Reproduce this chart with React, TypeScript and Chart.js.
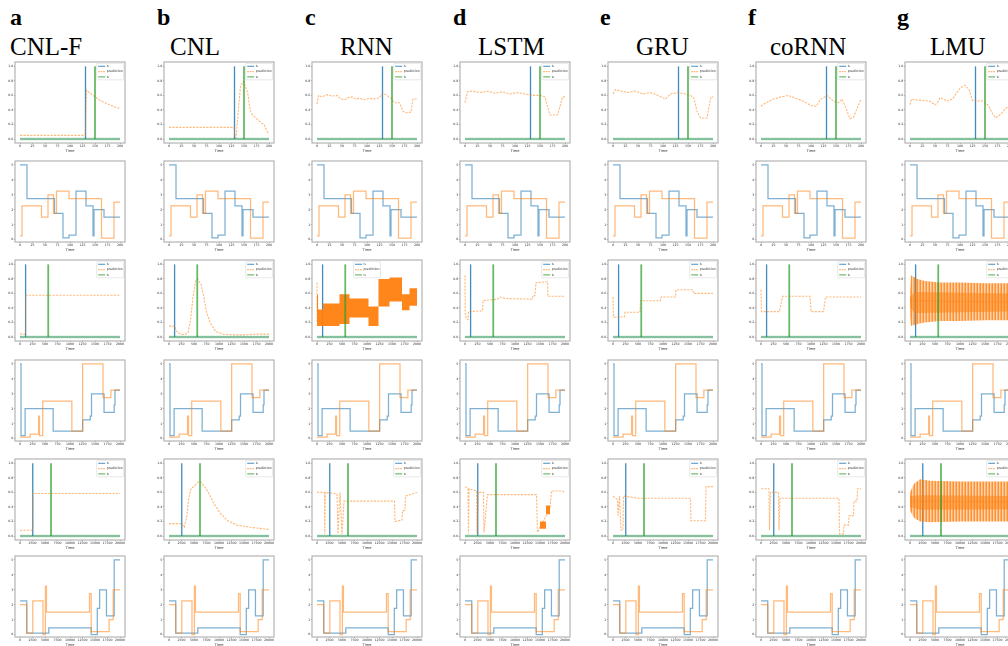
import React, { useEffect, useRef } from 'react';
import { Chart, registerables } from 'chart.js';

Chart.register(...registerables);

type Pt = [number, number];
type BandPt = [number, number, number];

// ---------------- data ----------------
const COLUMN_LETTERS = ['a', 'b', 'c', 'd', 'e', 'f', 'g'];
const MODEL_NAMES = ['CNL-F', 'CNL', 'RNN', 'LSTM', 'GRU', 'coRNN', 'LMU'];
const LEGEND_LABELS = ['t\u2081', 'prediction', 't\u2082'];
const AXIS_LABEL = 'Time';

const TICKS_SHORT = [0, 25, 50, 75, 100, 125, 150, 175, 200];
const TICKS_MID = [0, 250, 500, 750, 1000, 1250, 1500, 1750, 2000];
const TICKS_LONG = [0, 2500, 5000, 7500, 10000, 12500, 15000, 17500, 20000];
const TICKS_PROB = [0, 0.2, 0.4, 0.6, 0.8, 1.0];
const TICKS_LEVEL = [0, 1, 2, 3, 4, 5];

const EVENTS_SHORT = [131, 150];
const EVENTS_MID = [112, 565];
const EVENTS_LONG = [2550, 6200];

// step signals (value holds from x until next x)
const SIGNAL_SHORT_BLUE: Pt[] = [[0, 5], [14, 2.75], [69, 1.75], [86, 0.12], [98, 0.3], [112, 3.25], [132, 2.25], [146, 0.25], [148, 2.0], [168, 1.5], [200, 1.5]];
const SIGNAL_SHORT_ORANGE: Pt[] = [[0, 0.25], [4, 2.25], [43, 1.5], [56, 3.0], [67, 1.75], [73, 3.25], [98, 2.75], [163, 0.1], [188, 2.5], [200, 2.5]];
const SIGNAL_MID_BLUE: Pt[] = [[0, 5], [20, 0.2], [102, 2.0], [663, 0.5], [1253, 1.25], [1404, 1.5], [1430, 3.0], [1681, 1.75], [1884, 2.25], [1900, 3.25], [2000, 3.25]];
const SIGNAL_MID_ORANGE: Pt[] = [[0, 0.1], [203, 0.3], [372, 1.5], [390, 0.2], [454, 2.5], [1037, 0.5], [1253, 5.0], [1660, 2.75], [1817, 3.25], [2000, 3.25]];
const SIGNAL_LONG_BLUE: Pt[] = [[0, 2.25], [1350, 0.1], [5760, 0.45], [14240, 0.0], [15460, 1.75], [15930, 3.0], [17290, 1.25], [18840, 5.0], [20000, 5.0]];
const SIGNAL_LONG_ORANGE: Pt[] = [[0, 2.0], [1350, 0.1], [2560, 2.25], [4600, 0.0], [5080, 3.25], [5290, 1.5], [13900, 2.75], [14240, 0.2], [17830, 1.0], [18640, 3.0], [20000, 3.0]];

// predictions, row with 200 steps
const PRED_SHORT_CNLF: Pt[] = [[0, 0.05], [131, 0.05], [132, 0.5], [133, 0.67], [140, 0.63], [150, 0.58], [160, 0.53], [170, 0.5], [180, 0.47], [190, 0.44], [200, 0.42]];
const PRED_SHORT_CNL: Pt[] = [[0, 0.16], [130, 0.16], [132, 0.02], [134, 0.02], [137, 0.25], [140, 0.5], [143, 0.72], [147, 0.78], [150, 0.79], [153, 0.72], [157, 0.65], [160, 0.5], [163, 0.38], [167, 0.33], [175, 0.28], [185, 0.22], [190, 0.2], [195, 0.12], [200, 0.07]];
const PRED_SHORT_RNN: Pt[] = [[0, 0.48], [3, 0.6], [10, 0.58], [20, 0.61], [30, 0.59], [40, 0.6], [48, 0.55], [55, 0.54], [62, 0.57], [70, 0.58], [78, 0.55], [85, 0.56], [95, 0.54], [105, 0.56], [115, 0.55], [125, 0.57], [131, 0.63], [140, 0.6], [148, 0.56], [155, 0.5], [165, 0.5], [172, 0.38], [180, 0.36], [188, 0.37], [192, 0.55], [200, 0.55]];
const PRED_SHORT_LSTM: Pt[] = [[0, 0.5], [5, 0.65], [15, 0.66], [30, 0.64], [45, 0.66], [60, 0.63], [75, 0.65], [90, 0.62], [105, 0.64], [120, 0.62], [135, 0.6], [150, 0.6], [160, 0.58], [165, 0.45], [170, 0.33], [185, 0.33], [190, 0.45], [195, 0.58], [200, 0.58]];
const PRED_SHORT_GRU: Pt[] = [[0, 0.62], [5, 0.68], [15, 0.66], [30, 0.64], [45, 0.66], [60, 0.62], [75, 0.64], [90, 0.6], [105, 0.55], [115, 0.62], [130, 0.64], [145, 0.62], [155, 0.6], [162, 0.56], [168, 0.38], [175, 0.29], [188, 0.29], [192, 0.45], [196, 0.58], [200, 0.58]];
const PRED_SHORT_CORNN: Pt[] = [[0, 0.45], [10, 0.5], [25, 0.55], [40, 0.58], [55, 0.6], [70, 0.56], [85, 0.52], [100, 0.46], [110, 0.45], [120, 0.55], [132, 0.6], [145, 0.52], [155, 0.5], [162, 0.55], [170, 0.42], [178, 0.28], [185, 0.3], [192, 0.42], [200, 0.55]];
const PRED_SHORT_LMU: Pt[] = [[0, 0.47], [3, 0.55], [10, 0.54], [25, 0.53], [40, 0.52], [50, 0.47], [55, 0.5], [60, 0.57], [66, 0.55], [74, 0.52], [85, 0.55], [100, 0.7], [110, 0.74], [118, 0.68], [125, 0.53], [135, 0.52], [143, 0.53], [150, 0.5], [157, 0.46], [165, 0.35], [171, 0.29], [181, 0.34], [193, 0.43], [200, 0.45]];

// predictions, row with 2000 steps
const PRED_MID_CNLF: Pt[] = [[0, 0.04], [112, 0.04], [113, 0.575], [2000, 0.575]];
const PRED_MID_CNL: Pt[] = [[0, 0.15], [110, 0.15], [150, 0.08], [200, 0.05], [300, 0.03], [380, 0.06], [428, 0.22], [478, 0.54], [535, 0.77], [570, 0.8], [642, 0.72], [700, 0.54], [750, 0.34], [821, 0.2], [928, 0.08], [1071, 0.04], [1300, 0.03], [1500, 0.03], [1750, 0.04], [2000, 0.04]];
const PRED_MID_RNN: Pt[] = [[0, 0.75], [4, 0.2], [10, 0.58], [18, 0.3]];
const PRED_MID_LSTM: Pt[] = [[0, 0.85], [5, 0.3], [30, 0.25], [60, 0.24], [70, 0.35], [350, 0.36], [360, 0.5], [650, 0.52], [700, 0.55], [800, 0.53], [1350, 0.52], [1360, 0.57], [1400, 0.57], [1420, 0.75], [1650, 0.76], [1660, 0.56], [2000, 0.56]];
const PRED_MID_GRU: Pt[] = [[0, 0.55], [10, 0.27], [230, 0.28], [240, 0.34], [540, 0.34], [550, 0.5], [950, 0.5], [960, 0.55], [1250, 0.55], [1260, 0.65], [1600, 0.65], [1610, 0.6], [2000, 0.6]];
const PRED_MID_CORNN: Pt[] = [[0, 0.65], [10, 0.35], [370, 0.35], [430, 0.56], [980, 0.56], [1000, 0.35], [1250, 0.35], [1290, 0.55], [2000, 0.55]];
const PRED_MID_LMU: Pt[] = [[0, 0.5], [2000, 0.48]];

// predictions, row with 20000 steps
const PRED_LONG_CNLF: Pt[] = [[0, 0.08], [2550, 0.08], [2560, 0.585], [20000, 0.585]];
const PRED_LONG_CNL: Pt[] = [[0, 0.17], [2500, 0.17], [3050, 0.12], [3500, 0.25], [3930, 0.51], [4410, 0.65], [5090, 0.69], [5970, 0.75], [6440, 0.74], [7450, 0.65], [8800, 0.47], [10170, 0.32], [11530, 0.22], [13560, 0.15], [16270, 0.12], [20000, 0.09]];
const PRED_LONG_RNN: Pt[] = [[0, 0.6], [1500, 0.6], [1550, 0.03], [1650, 0.6], [4000, 0.58], [4200, 0.03], [4600, 0.6], [5000, 0.02], [5400, 0.48], [15500, 0.48], [15600, 0.2], [17000, 0.22], [17100, 0.35], [17600, 0.35], [17700, 0.55], [20000, 0.6]];
const PRED_LONG_LSTM: Pt[] = [[0, 0.68], [600, 0.65], [700, 0.03], [800, 0.65], [2300, 0.62], [2400, 0.03], [2600, 0.6], [3700, 0.6], [3800, 0.05], [4500, 0.57], [14300, 0.57], [14500, 0.05], [15000, 0.12], [17000, 0.38], [17300, 0.62], [19500, 0.62], [20000, 0.6]];
const PRED_LONG_GRU: Pt[] = [[0, 0.55], [900, 0.5], [1000, 0.28], [1300, 0.55], [1600, 0.08], [2000, 0.08], [2100, 0.55], [5000, 0.52], [15500, 0.52], [15600, 0.21], [18500, 0.21], [18600, 0.68], [20000, 0.68]];
const PRED_LONG_CORNN: Pt[] = [[0, 0.65], [1600, 0.65], [1700, 0.08], [1900, 0.6], [3500, 0.6], [3600, 0.08], [3800, 0.52], [15600, 0.52], [15700, 0.03], [16500, 0.03], [16600, 0.15], [17500, 0.15], [17600, 0.28], [18500, 0.28], [18600, 0.48], [19200, 0.48], [19300, 0.65], [20000, 0.65]];
const PRED_LONG_LMU: Pt[] = [[0, 0.48], [20000, 0.47]];

// dense oscillation envelopes [x, low, high]
const BAND_MID_RNN: BandPt[] = [[0, 0.15, 0.58], [20, 0.15, 0.38], [120, 0.15, 0.46], [450, 0.18, 0.59], [650, 0.27, 0.53], [1030, 0.15, 0.42], [1230, 0.42, 0.8], [1450, 0.49, 0.82], [1700, 0.37, 0.59], [1850, 0.43, 0.67], [2000, 0.43, 0.67]];
const BAND_MID_LMU_OUTER: BandPt[] = [[0, 0.3, 0.62], [20, 0.15, 0.85], [150, 0.18, 0.8], [300, 0.2, 0.77], [600, 0.22, 0.75], [1000, 0.22, 0.75], [1500, 0.23, 0.74], [2000, 0.23, 0.74]];
const BAND_MID_LMU_CORE: BandPt[] = [[0, 0.4, 0.55], [100, 0.33, 0.62], [2000, 0.35, 0.6]];
const BAND_LONG_LSTM: BandPt[] = [[15000, 0.1, 0.2], [16200, 0.3, 0.42], [17000, 0.3, 0.42]];
const BAND_LONG_LMU_OUTER: BandPt[] = [[0, 0.35, 0.6], [800, 0.25, 0.72], [2000, 0.2, 0.78], [4000, 0.19, 0.76], [10000, 0.2, 0.75], [20000, 0.2, 0.75]];
const BAND_LONG_LMU_CORE: BandPt[] = [[0, 0.4, 0.55], [2000, 0.36, 0.56], [20000, 0.37, 0.55]];

// ---------------- layout & style ----------------
const FRAME_LEFTS = [15, 164, 312, 460, 608, 756, 905];
const FRAME_TOPS = [62, 161, 260, 360, 459, 556];
const FRAME_W = 110;
const FRAME_H = 81;
const PAD_L = 15;
const PAD_T = 3;
const PAD_R = 8;
const PAD_B = 11;
const LETTER_LEFTS = [10, 157, 305, 453, 600, 748, 897];
const NAME_LEFTS = [10, 170, 340, 478, 636, 770, 930];

const TICK_FONT = { family: 'DejaVu Sans', size: 3.2 };
const blue = (a: number) => `rgba(31,119,180,${a})`;
const orange = (a: number) => `rgba(255,127,14,${a})`;
const green = (a: number) => `rgba(44,160,44,${a})`;

let hatchCache: any = null;
function hatch(): any {
  if (hatchCache) return hatchCache;
  const c = document.createElement('canvas');
  c.width = 3;
  c.height = 1;
  const g = c.getContext('2d')!;
  g.fillStyle = orange(0.85);
  g.fillRect(0, 0, 1, 1);
  g.fillStyle = orange(0.35);
  g.fillRect(1, 0, 1, 1);
  g.fillStyle = orange(0.6);
  g.fillRect(2, 0, 1, 1);
  hatchCache = g.createPattern(c, 'repeat');
  return hatchCache;
}

const PREDS_SHORT = [PRED_SHORT_CNLF, PRED_SHORT_CNL, PRED_SHORT_RNN, PRED_SHORT_LSTM, PRED_SHORT_GRU, PRED_SHORT_CORNN, PRED_SHORT_LMU];
const PREDS_MID = [PRED_MID_CNLF, PRED_MID_CNL, PRED_MID_RNN, PRED_MID_LSTM, PRED_MID_GRU, PRED_MID_CORNN, PRED_MID_LMU];
const PREDS_LONG = [PRED_LONG_CNLF, PRED_LONG_CNL, PRED_LONG_RNN, PRED_LONG_LSTM, PRED_LONG_GRU, PRED_LONG_CORNN, PRED_LONG_LMU];

type BandSpec = { data: BandPt[]; stepped: boolean; look: 'solid' | 'hatch' | 'core' };
const BANDS_MID: BandSpec[][] = [[], [], [{ data: BAND_MID_RNN, stepped: true, look: 'solid' }], [], [], [],
  [{ data: BAND_MID_LMU_OUTER, stepped: false, look: 'hatch' }, { data: BAND_MID_LMU_CORE, stepped: false, look: 'core' }]];
const BANDS_LONG: BandSpec[][] = [[], [], [], [{ data: BAND_LONG_LSTM, stepped: true, look: 'solid' }], [], [],
  [{ data: BAND_LONG_LMU_OUTER, stepped: false, look: 'hatch' }, { data: BAND_LONG_LMU_CORE, stepped: false, look: 'core' }]];
const NO_BANDS: BandSpec[][] = [[], [], [], [], [], [], []];
const LEGEND_ALIGN_MID = ['end', 'end', 'center', 'end', 'end', 'end', 'end'];
const LEGEND_ALIGN_DEFAULT = ['end', 'end', 'end', 'end', 'end', 'end', 'end'];

function bandFill(look: string): any {
  if (look === 'solid') return orange(0.95);
  if (look === 'core') return orange(0.5);
  return hatch();
}

type RowSpec =
  | { kind: 'event'; span: number; ticks: number[]; events: number[]; preds: Pt[][]; bands: BandSpec[][]; align: string[] }
  | { kind: 'signal'; span: number; ticks: number[]; blue: Pt[]; orange: Pt[] };

const ROWS: RowSpec[] = [
  { kind: 'event', span: 200, ticks: TICKS_SHORT, events: EVENTS_SHORT, preds: PREDS_SHORT, bands: NO_BANDS, align: LEGEND_ALIGN_DEFAULT },
  { kind: 'signal', span: 200, ticks: TICKS_SHORT, blue: SIGNAL_SHORT_BLUE, orange: SIGNAL_SHORT_ORANGE },
  { kind: 'event', span: 2000, ticks: TICKS_MID, events: EVENTS_MID, preds: PREDS_MID, bands: BANDS_MID, align: LEGEND_ALIGN_MID },
  { kind: 'signal', span: 2000, ticks: TICKS_MID, blue: SIGNAL_MID_BLUE, orange: SIGNAL_MID_ORANGE },
  { kind: 'event', span: 20000, ticks: TICKS_LONG, events: EVENTS_LONG, preds: PREDS_LONG, bands: BANDS_LONG, align: LEGEND_ALIGN_DEFAULT },
  { kind: 'signal', span: 20000, ticks: TICKS_LONG, blue: SIGNAL_LONG_BLUE, orange: SIGNAL_LONG_ORANGE },
];

const toXY = (pts: Pt[]) => pts.map(([x, y]) => ({ x, y }));

// ---------------- plugins ----------------
const framePlugin = {
  id: 'frame',
  afterDraw(chart: any) {
    const { ctx, chartArea: ca } = chart;
    ctx.save();
    ctx.strokeStyle = '#b4b4b4';
    ctx.lineWidth = 1.2;
    ctx.strokeRect(ca.left, ca.top, ca.right - ca.left, ca.bottom - ca.top);
    ctx.restore();
  },
};

const miniLegendPlugin = {
  id: 'miniLegend',
  afterDraw(chart: any, _args: any, opts: any) {
    if (!opts || !opts.show) return;
    const { ctx, chartArea: ca } = chart;
    const w = 27;
    const h = 16.5;
    const x = opts.align === 'center' ? (ca.left + ca.right) / 2 - w / 2 : ca.right - w - 1.3;
    const y = ca.top + 1.3;
    ctx.save();
    ctx.fillStyle = 'rgba(255,255,255,0.85)';
    ctx.strokeStyle = '#d6d6d6';
    ctx.lineWidth = 0.6;
    ctx.beginPath();
    if (ctx.roundRect) ctx.roundRect(x, y, w, h, 1.2); else ctx.rect(x, y, w, h);
    ctx.fill();
    ctx.stroke();
    const styles = [
      { c: blue(0.7), dash: [] as number[], lw: 1.2 },
      { c: orange(0.6), dash: [1.6, 0.9], lw: 1.1 },
      { c: green(0.7), dash: [] as number[], lw: 1.2 },
    ];
    ctx.font = '3.2px "DejaVu Sans"';
    ctx.textBaseline = 'middle';
    ctx.textAlign = 'left';
    LEGEND_LABELS.forEach((label, i) => {
      const yy = y + 3 + i * 5.3;
      ctx.beginPath();
      ctx.setLineDash(styles[i].dash);
      ctx.strokeStyle = styles[i].c;
      ctx.lineWidth = styles[i].lw;
      ctx.moveTo(x + 1.5, yy);
      ctx.lineTo(x + 8.5, yy);
      ctx.stroke();
      ctx.setLineDash([]);
      ctx.fillStyle = '#333';
      ctx.fillText(label, x + 10, yy);
    });
    ctx.restore();
  },
};

// ---------------- config ----------------
function buildConfig(row: RowSpec, col: number) {
  const span = row.span;
  const datasets: any[] = [];
  const base = { pointRadius: 0, fill: false, tension: 0, spanGaps: true };
  let yMin: number, yMax: number, yTicks: number[], yFmt: (v: number) => string;
  if (row.kind === 'event') {
    yMin = -0.055; yMax = 1.06; yTicks = TICKS_PROB; yFmt = (v) => v.toFixed(1);
    const [t1, t2] = row.events;
    const baseline = toXY([[0, 0], [span, 0]]);
    datasets.push({ ...base, data: baseline, borderColor: blue(0.6), borderWidth: 1.2, order: 9 });
    datasets.push({ ...base, data: toXY([[t1, 0], [t1, 1]]), borderColor: blue(0.85), borderWidth: 1.3, order: 8 });
    row.bands[col].forEach((b, bi) => {
      const lo = b.data.map(([x, l]) => ({ x, y: l }));
      const hi = b.data.map(([x, , h]) => ({ x, y: h }));
      datasets.push({ ...base, data: lo, stepped: b.stepped, borderColor: 'rgba(0,0,0,0)', borderWidth: 0, order: 7 - bi * 0.1 });
      datasets.push({ ...base, data: hi, stepped: b.stepped, borderColor: 'rgba(0,0,0,0)', borderWidth: 0, fill: '-1', backgroundColor: bandFill(b.look), order: 7 - bi * 0.1 });
    });
    datasets.push({ ...base, data: toXY(row.preds[col]), borderColor: orange(0.55), borderWidth: 1.1, borderDash: [2.2, 1.2], order: 5 });
    datasets.push({ ...base, data: baseline, borderColor: green(0.38), borderWidth: 2.6, order: 3 });
    datasets.push({ ...base, data: toXY([[t2, 0], [t2, 1]]), borderColor: green(0.72), borderWidth: 1.8, order: 2 });
  } else {
    yMin = -0.16; yMax = 5.26; yTicks = TICKS_LEVEL; yFmt = (v) => String(v);
    datasets.push({ ...base, data: toXY(row.blue), stepped: true, borderColor: blue(0.58), borderWidth: 1.25, order: 2 });
    datasets.push({ ...base, data: toXY(row.orange), stepped: true, borderColor: orange(0.55), borderWidth: 1.25, order: 1 });
  }
  const xTicks = row.ticks;
  return {
    type: 'line',
    data: { datasets },
    plugins: [framePlugin, miniLegendPlugin],
    options: {
      animation: false,
      responsive: false,
      maintainAspectRatio: false,
      devicePixelRatio: 1,
      events: [],
      layout: { padding: { top: PAD_T, right: PAD_R, left: 0, bottom: 0 } },
      plugins: {
        legend: { display: false },
        tooltip: { enabled: false },
        title: { display: false },
        miniLegend: { show: row.kind === 'event', align: row.kind === 'event' ? row.align[col] : 'end' },
      },
      scales: {
        x: {
          type: 'linear',
          min: -0.05 * span,
          max: 1.05 * span,
          afterBuildTicks: (s: any) => { s.ticks = xTicks.map((value) => ({ value })); },
          afterFit: (s: any) => { s.height = PAD_B; },
          grid: { display: true, drawOnChartArea: false, drawTicks: true, tickLength: 1.2, color: '#555', lineWidth: 0.5 },
          border: { display: false },
          ticks: { font: TICK_FONT, color: '#333', padding: 0.4, maxRotation: 0, minRotation: 0, autoSkip: false, callback: (v: any) => String(v) },
          title: { display: true, text: AXIS_LABEL, font: { family: 'DejaVu Sans', size: 3.6 }, color: '#333', padding: { top: 0, bottom: 0.5 } },
        },
        y: {
          type: 'linear',
          min: yMin,
          max: yMax,
          afterBuildTicks: (s: any) => { s.ticks = yTicks.map((value) => ({ value })); },
          afterFit: (s: any) => { s.width = PAD_L; },
          grid: { display: true, drawOnChartArea: false, drawTicks: true, tickLength: 1.2, color: '#555', lineWidth: 0.5 },
          border: { display: false },
          ticks: { font: TICK_FONT, color: '#333', padding: 0.6, autoSkip: false, callback: (v: any) => yFmt(Number(v)) },
        },
      },
    },
  };
}

function Panel({ row, col, rowIndex }: { row: RowSpec; col: number; rowIndex: number }) {
  const ref = useRef<HTMLCanvasElement | null>(null);
  useEffect(() => {
    if (!ref.current) return;
    const chart = new Chart(ref.current, buildConfig(row, col) as any);
    return () => chart.destroy();
  }, [row, col]);
  const w = PAD_L + FRAME_W + PAD_R;
  const h = PAD_T + FRAME_H + PAD_B;
  const left = FRAME_LEFTS[col] - PAD_L;
  const top = FRAME_TOPS[rowIndex] - PAD_T;
  return (
    <canvas
      ref={ref}
      width={w}
      height={h}
      style={{ position: 'absolute', left, top, width: w, height: h }}
    />
  );
}

export default function App() {
  return (
    <div
      style={{
        position: 'fixed',
        left: 0,
        top: 0,
        width: 1008,
        height: 646,
        overflow: 'hidden',
        background: '#fff',
      }}
    >
      {COLUMN_LETTERS.map((letter, i) => (
        <div
          key={'l' + i}
          style={{
            position: 'absolute',
            left: LETTER_LEFTS[i],
            top: 5,
            fontFamily: '"Liberation Serif", "DejaVu Serif", serif',
            fontWeight: 'bold',
            fontSize: 24,
            lineHeight: '24px',
            color: '#000',
            whiteSpace: 'nowrap',
          }}
        >
          {letter}
        </div>
      ))}
      {MODEL_NAMES.map((name, i) => (
        <div
          key={'n' + i}
          style={{
            position: 'absolute',
            left: NAME_LEFTS[i],
            top: 34,
            fontFamily: '"Liberation Serif", "DejaVu Serif", serif',
            fontSize: 25,
            lineHeight: '25px',
            color: '#000',
            whiteSpace: 'nowrap',
          }}
        >
          {name}
        </div>
      ))}
      {ROWS.map((row, r) =>
        MODEL_NAMES.map((_, c) => <Panel key={r + '-' + c} row={row} col={c} rowIndex={r} />)
      )}
    </div>
  );
}
